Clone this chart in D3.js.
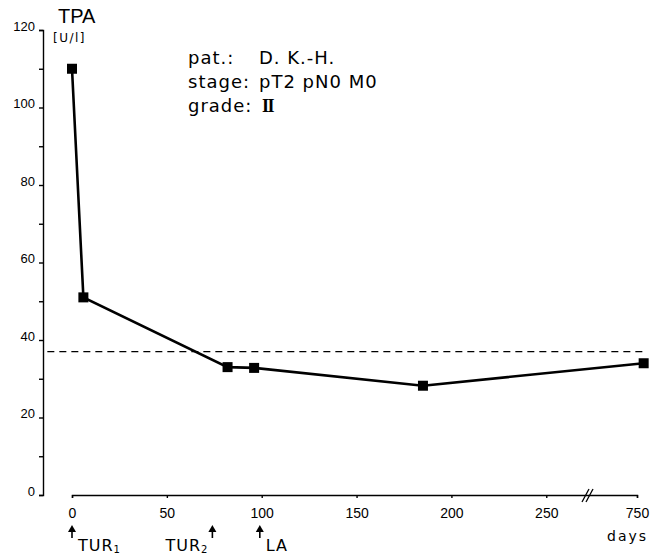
<!DOCTYPE html>
<html>
<head>
<meta charset="utf-8">
<script src="https://cdn.jsdelivr.net/npm/d3@7"></script>
<style>
  body { margin: 0; background: #fff; }
  svg { display: block; }
</style>
</head>
<body>
<script>
// TPA values over time (days after first TUR)
var days = [0, 6, 82, 96, 185, 815];
var tpa = [110, 51, 33, 32.8, 28.2, 34];

var yTicks = [0, 20, 40, 60, 80, 100, 120];
var yMinorTicks = [10, 30, 50, 70, 90, 110];
var xTicks = [0, 50, 100, 150, 200, 250, 750];
var xBreak = 272;

var cutoff = 37;
var cutoffDays = [-13, 815];

var eventNames = ["TUR", "TUR", "LA"];
var eventSubs = ["1", "2", ""];
var eventDays = [0, 74, 99];

var infoLabels = ["pat.:", "stage:", "grade:"];
var infoValues = ["D. K.-H.", "pT2 pN0 M0", "II"];

function drawChart() {
	var svg = d3.select("body").append("svg").attr("width", 664).attr("height", 557);
	svg.append("rect").attr("width", 664).attr("height", 557).attr("fill", "#fff");

	// broken x axis: linear up to the break, compressed after it
	var x = d3.scaleLinear().domain([0, xBreak, 750]).range([72, 588, 637]);
	var y = d3.scaleLinear().domain([0, 120]).range([495, 30]);

	// y axis
	var yAxis = svg.append("g").attr("transform", "translate(43,0)")
		.call(d3.axisLeft(y).tickValues(yTicks).tickSize(4).tickSizeOuter(4).tickPadding(4));
	yAxis.selectAll("text").attr("dy", "0").attr("font-size", 13)
		.attr("font-family", "Liberation Sans, Arial, sans-serif");
	svg.append("g").attr("transform", "translate(43,0)")
		.call(d3.axisLeft(y).tickValues(yMinorTicks).tickSize(4).tickFormat(""))
		.select(".domain").remove();

	// x axis
	var xAxis = svg.append("g").attr("transform", "translate(0,495)")
		.call(d3.axisBottom(x).tickValues(xTicks).tickSize(3).tickSizeOuter(3).tickPadding(10));
	xAxis.selectAll("text").attr("font-size", 14)
		.attr("font-family", "Liberation Sans, Arial, sans-serif");

	svg.selectAll(".domain, .tick line").attr("stroke", "#000").attr("stroke-width", 1.4);

	// break marks
	var bx = x(xBreak);
	svg.append("line").attr("x1", bx - 6).attr("y1", 502).attr("x2", bx + 1).attr("y2", 489)
		.attr("stroke", "black").attr("stroke-width", 1.3);
	svg.append("line").attr("x1", bx - 2).attr("y1", 502).attr("x2", bx + 5).attr("y2", 489)
		.attr("stroke", "black").attr("stroke-width", 1.3);

	svg.append("text").attr("x", 607).attr("y", 541).attr("font-size", 14)
		.attr("letter-spacing", 2).attr("font-family", "DejaVu Sans, sans-serif").text("days");

	// axis title
	svg.append("text").attr("x", 58).attr("y", 23).attr("font-size", 20)
		.attr("font-family", "Liberation Sans, Arial, sans-serif").text("TPA");
	svg.append("text").attr("x", 53).attr("y", 42).attr("font-size", 12).attr("letter-spacing", 1.5)
		.attr("font-family", "DejaVu Sans, sans-serif").text("[U/l]");

	// cutoff line
	svg.append("line")
		.attr("x1", x(cutoffDays[0])).attr("y1", y(cutoff))
		.attr("x2", x(cutoffDays[1])).attr("y2", y(cutoff))
		.attr("stroke", "black").attr("stroke-width", 1.3).attr("stroke-dasharray", "7,5");

	// series
	var pts = days.map(function(d, i) { return [x(d), y(tpa[i])]; });
	svg.append("path").attr("d", d3.line()(pts))
		.attr("fill", "none").attr("stroke", "black").attr("stroke-width", 2.6);
	svg.selectAll("rect.pt").data(pts).enter().append("rect").attr("class", "pt")
		.attr("x", function(d) { return d[0] - 5; }).attr("y", function(d) { return d[1] - 5; })
		.attr("width", 10).attr("height", 10).attr("fill", "black");

	// info block
	for (var i = 0; i < infoLabels.length; i++) {
		svg.append("text").attr("x", 188).attr("y", 64 + i * 24).attr("font-size", 18)
			.attr("letter-spacing", 1).attr("font-family", "DejaVu Sans, sans-serif").text(infoLabels[i]);
		var v = svg.append("text").attr("x", 259).attr("y", 64 + i * 24).attr("font-size", 18)
			.attr("letter-spacing", 1).attr("font-family", "DejaVu Sans, sans-serif").text(infoValues[i]);
		if (infoValues[i] == "II") {
			v.attr("x", 262).attr("font-family", "Liberation Serif, serif").attr("font-weight", "bold")
				.attr("letter-spacing", -1.5);
		}
	}

	// event arrows below the axis
	for (var j = 0; j < eventDays.length; j++) {
		var ax = x(eventDays[j]);
		svg.append("line").attr("x1", ax).attr("y1", 538).attr("x2", ax).attr("y2", 530)
			.attr("stroke", "black").attr("stroke-width", 1.6);
		svg.append("path").attr("d", "M" + (ax - 4) + ",532L" + ax + ",525L" + (ax + 4) + ",532Z")
			.attr("fill", "black");
		var t = svg.append("text").attr("y", 551).attr("font-size", 16).attr("letter-spacing", 1)
			.attr("font-family", "DejaVu Sans, sans-serif");
		if (j == 1) {
			t.attr("x", ax - 4).attr("text-anchor", "end");
		} else {
			t.attr("x", ax + 6);
		}
		t.append("tspan").text(eventNames[j]);
		if (eventSubs[j] != "") {
			t.append("tspan").attr("dy", 2).attr("font-size", 10).text(eventSubs[j]);
		}
	}
}

drawChart();
</script>
</body>
</html>
